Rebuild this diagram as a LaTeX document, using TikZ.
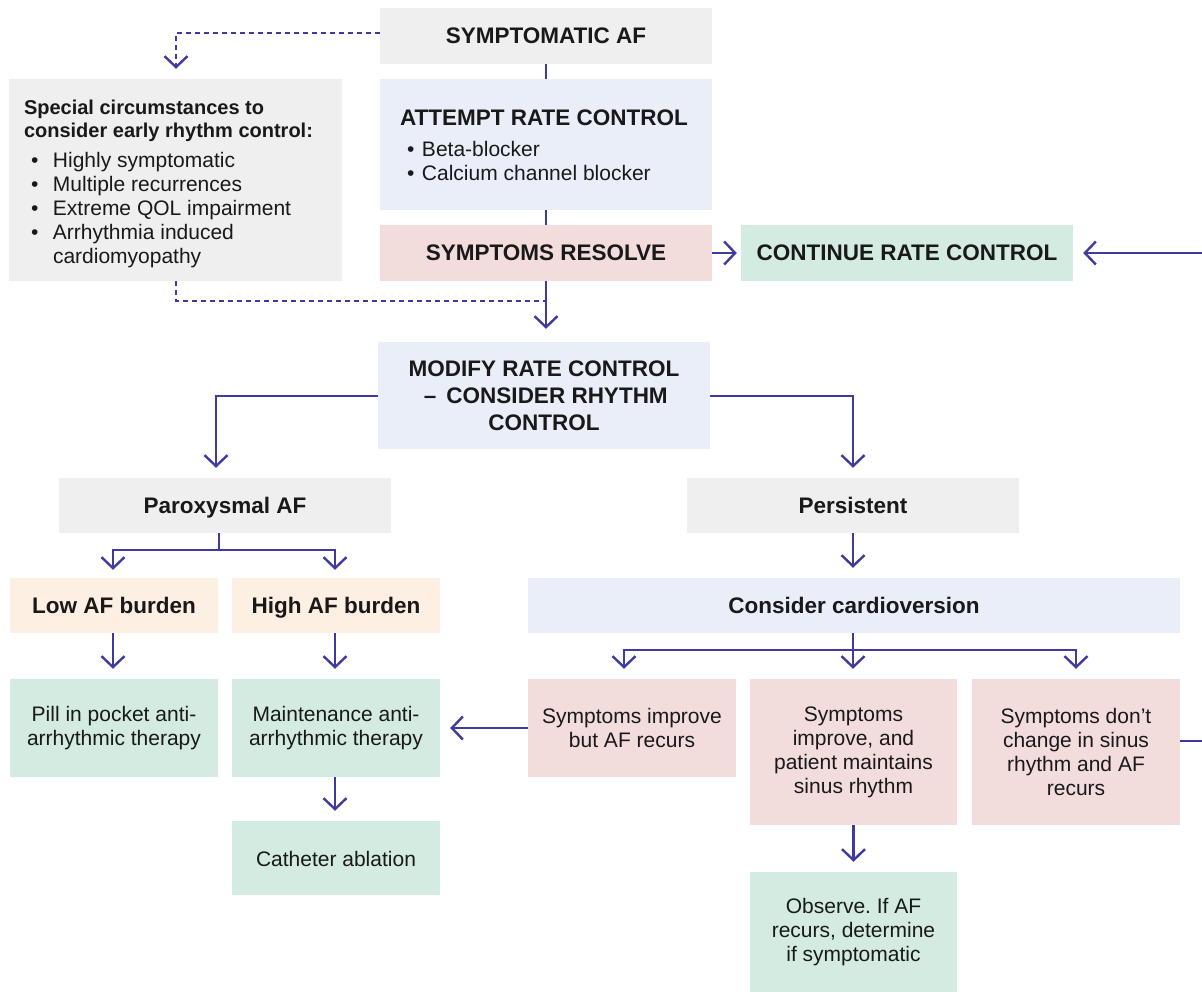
\documentclass[tikz,border=0pt]{standalone}
\usepackage{fontspec}
\setmainfont{Liberation Sans}
\usetikzlibrary{arrows.meta}

\definecolor{boxgrey}{HTML}{EFEFEF}
\definecolor{boxblue}{HTML}{EAEEF9}
\definecolor{boxpink}{HTML}{F3DCDC}
\definecolor{boxgreen}{HTML}{D3EBE0}
\definecolor{boxpeach}{HTML}{FDF0E3}
\definecolor{flowline}{HTML}{3F3AA0}

\newcommand{\headfont}{\fontsize{22.5}{27}\selectfont\bfseries}
\newcommand{\bodyfont}{\fontsize{21}{24}\selectfont}
\newcommand{\blt}[1]{\makebox[#1][l]{\hspace{7pt}\textbullet}}
\frenchspacing

\begin{document}
\begin{tikzpicture}[
    x=1pt, y=-1pt,
    box/.style={inner sep=0pt, align=center, text=black!90},
    head/.style={box, font=\headfont},
    oneline/.style={text height=16pt, text depth=0pt},
    body/.style={box, font=\bodyfont},
    tip/.style={-{Straight Barb[length=11pt,width=23pt,line width=2.4pt]}},
    link/.style={draw=flowline, line width=2.2pt},
    arrow/.style={link, tip, shorten >=10pt},
    dashlink/.style={draw=flowline, line width=2.2pt, dash pattern=on 5pt off 4pt}
  ]
  \useasboundingbox (0,0) rectangle (1202,992);

  % top row
  \node[head, oneline, fill=boxgrey, minimum width=332pt, minimum height=56pt] (saf) at (546,36) {SYMPTOMATIC AF};
  \node[box, fill=boxblue, minimum width=332pt, minimum height=131pt] (attempt) at (546,144.5)
    {\parbox{292pt}{\raggedright\vspace*{2pt}
     {\headfont ATTEMPT RATE CONTROL\par}\vspace{7pt}
     {\bodyfont\blt{22pt}Beta-blocker\\
     \blt{22pt}Calcium channel blocker\par}}};
  \node[head, oneline, fill=boxpink, minimum width=332pt, minimum height=56pt] (resolve) at (546,253) {SYMPTOMS RESOLVE};
  \node[head, oneline, fill=boxgreen, minimum width=332pt, minimum height=56pt] (cont) at (907,253) {CONTINUE RATE CONTROL};
  \node[box, fill=boxgrey, minimum width=333pt, minimum height=202pt] (special) at (175.5,180)
    {\parbox{303pt}{\raggedright\vspace*{8pt}
     {\fontsize{20}{23}\selectfont\bfseries Special circumstances to\\consider early rhythm control:\par}\vspace{6pt}
     {\bodyfont\blt{29pt}Highly symptomatic\\
     \blt{29pt}Multiple recurrences\\
     \blt{29pt}Extreme QOL impairment\\
     \blt{29pt}Arrhythmia induced\\
     \hspace*{29pt}cardiomyopathy\par}}};

  % middle
  \node[head, fill=boxblue, minimum width=332pt, minimum height=107pt] (modify) at (544,395.5)
    {MODIFY RATE CONTROL\\\,–\, CONSIDER RHYTHM\\CONTROL};
  \node[head, oneline, fill=boxgrey, minimum width=332pt, minimum height=55pt] (parox) at (225,505.5) {Paroxysmal AF};
  \node[head, oneline, fill=boxgrey, minimum width=332pt, minimum height=55pt] (persist) at (853,505.5) {Persistent};
  \node[head, oneline, fill=boxpeach, minimum width=208pt, minimum height=55pt] (low) at (114,605.5) {Low AF burden};
  \node[head, oneline, fill=boxpeach, minimum width=208pt, minimum height=55pt] (high) at (336,605.5) {High AF burden};
  \node[head, oneline, fill=boxblue, minimum width=652pt, minimum height=55pt] (cardio) at (854,605.5) {Consider cardioversion};

  % bottom
  \node[body, fill=boxgreen, minimum width=208pt, minimum height=98pt] (pill) at (114,728) {Pill in pocket anti-\\arrhythmic therapy};
  \node[body, fill=boxgreen, minimum width=208pt, minimum height=98pt] (maint) at (336,728) {Maintenance anti-\\arrhythmic therapy};
  \node[body, oneline, fill=boxgreen, minimum width=208pt, minimum height=74pt] (cath) at (336,858) {Catheter ablation};
  \node[body, fill=boxpink, minimum width=208pt, minimum height=98pt] (recur) at (632,728) {Symptoms improve\\but AF recurs};
  \node[body, fill=boxpink, minimum width=207pt, minimum height=146pt] (sinus) at (853.5,752) {Symptoms\\improve, and\\patient maintains\\sinus rhythm};
  \node[body, fill=boxpink, minimum width=208pt, minimum height=146pt] (nochange) at (1076,752) {Symptoms don’t\\change in sinus\\rhythm and AF\\recurs};
  \node[body, fill=boxgreen, minimum width=207pt, minimum height=120pt] (observe) at (853.5,932) {Observe. If AF\\recurs, determine\\if symptomatic};

  \coordinate (join) at (546,301);
  \coordinate (edge) at (1220,741);

  % connectors
  \draw[link] (saf.south) -- (attempt.north);
  \draw[link] (attempt.south) -- (resolve.north);
  \draw[arrow, shorten >=13pt] (resolve.south) -- (resolve.south |- modify.north);
  \draw[arrow, shorten >=4pt] (resolve.east) -- (cont.west);
  \draw[dashlink, tip, shorten >=10pt] ([yshift=3pt]saf.west) -| ([xshift=0.5pt]special.north);
  \draw[dashlink] ([xshift=0.5pt]special.south) |- (join);
  \draw[arrow] ([yshift=-0.5pt]modify.west) -| ([xshift=-9pt]parox.north);
  \draw[arrow] ([yshift=-0.5pt]modify.east) -| (persist.north);
  \draw[link] ([xshift=-6pt]parox.south) -- ++(0,17) coordinate (psplit);
  \draw[arrow, shorten >=8pt] (psplit) -| ([xshift=-1pt]low.north);
  \draw[arrow, shorten >=8pt] (psplit) -| ([xshift=-1pt]high.north);
  \draw[arrow] ([xshift=-1pt]low.south) -- ([xshift=-1pt]pill.north);
  \draw[arrow] ([xshift=-1pt]high.south) -- ([xshift=-1pt]maint.north);
  \draw[arrow] ([xshift=-1pt]maint.south) -- ([xshift=-1pt]cath.north);
  \draw[arrow] (persist.south) -- (persist.south |- cardio.north);
  \draw[link] (persist.south |- cardio.south) -- ++(0,17) coordinate (csplit);
  \draw[arrow] (csplit) -| ([xshift=-8pt]recur.north);
  \draw[arrow] (csplit) -- (csplit |- sinus.north);
  \draw[arrow] (csplit) -| (nochange.north);
  \draw[arrow] (recur.west) -- (maint.east);
  \draw[arrow] (sinus.south) -- (observe.north);
  \draw[arrow] ([yshift=11pt]nochange.east) -- (edge) |- (cont.east);
\end{tikzpicture}
\end{document}
